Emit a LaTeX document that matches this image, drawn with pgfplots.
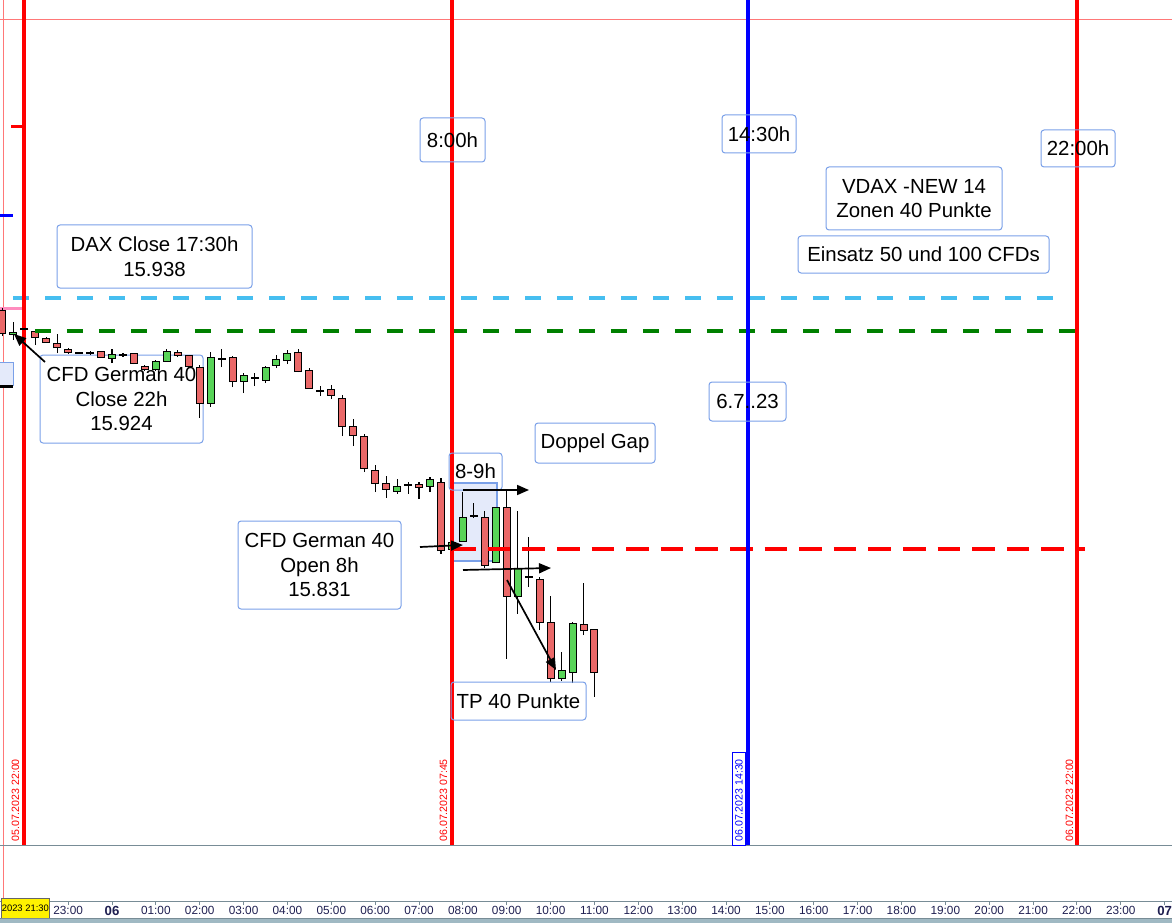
\documentclass[border=0pt]{standalone}
\usepackage{fontspec}
\setmainfont{Liberation Sans}
\usepackage{pgfplots}
\pgfplotsset{compat=1.18}
\usepackage{pgfplotstable}
\usetikzlibrary{arrows.meta}

\definecolor{boxc}{RGB}{122,160,232}
\definecolor{skyd}{RGB}{70,190,240}
\definecolor{grn}{RGB}{0,128,0}
\definecolor{redbody}{RGB}{234,104,104}
\definecolor{grnbody}{RGB}{88,212,88}
\definecolor{axgray}{RGB}{120,140,150}
\definecolor{pinkl}{RGB}{255,120,120}
\definecolor{pinkt}{RGB}{255,140,190}
\definecolor{shade}{RGB}{228,234,250}
\definecolor{tickc}{RGB}{30,30,80}
\definecolor{band}{RGB}{160,185,195}

% 15-min candles, t = hours from 06.07.2023 00:00
\pgfplotstableread{
t     o       h       l       c
-2.5  15933.0 15933.8 15921.9 15922.7
-1.75 15924.0 15924.9 15918.0 15921.0
-1.5  15921.0 15921.4 15918.9 15918.9
-1.25 15918.9 15922.7 15914.6 15916.7
-1    15916.3 15916.7 15914.2 15914.6
-0.25 15915.5 15915.5 15912.5 15912.5
0.5   15914.6 15914.6 15909.9 15909.9
0.75  15909.1 15909.5 15906.9 15907.4
1.5   15915.0 15915.9 15912.9 15913.3
1.75  15913.8 15913.8 15908.2 15908.6
2     15908.6 15909.5 15886.9 15892.9
2.75  15912.9 15913.3 15900.1 15902.2
4.25  15915.0 15916.3 15906.5 15906.5
4.5   15907.4 15908.2 15899.3 15899.3
5     15899.3 15901.0 15895.0 15896.3
5.25  15895.4 15896.7 15879.2 15883.0
5.5   15883.5 15886.5 15874.9 15879.2
5.75  15879.2 15880.1 15863.8 15865.1
6     15864.7 15866.8 15855.3 15858.7
6.25  15859.2 15862.1 15852.8 15856.2
7     15858.7 15859.6 15852.3 15857.0
7.5   15859.6 15861.3 15828.9 15830.1
8.5   15844.6 15847.2 15822.9 15823.7
9     15848.9 15856.2 15784.1 15810.5
9.5   15819.5 15836.1 15814.8 15818.6
9.75  15818.2 15819.0 15796.4 15799.4
10    15799.9 15810.9 15774.3 15775.5
10.75 15799.0 15816.5 15794.3 15796.0
11    15796.9 15796.9 15767.9 15778.1
}\redc

\pgfplotstableread{
t     o       h       l       c
-2.25 15922.3 15927.8 15920.2 15923.6
0     15912.1 15916.3 15910.3 15914.2
1     15907.4 15911.6 15906.9 15911.2
1.25  15910.8 15916.3 15910.8 15915.5
2.25  15892.9 15915.0 15891.6 15912.9
3     15902.2 15906.1 15897.5 15905.2
3.5   15902.7 15909.1 15901.8 15908.6
3.75  15909.1 15913.8 15908.2 15912.1
4     15911.2 15915.9 15909.9 15914.6
6.5   15855.3 15860.9 15854.5 15857.9
7.25  15857.4 15861.7 15855.3 15860.9
7.75  15830.6 15834.8 15829.7 15834.0
8     15834.0 15855.3 15834.0 15844.6
8.75  15825.0 15848.9 15825.0 15848.9
9.25  15810.5 15847.2 15803.3 15822.9
10.25 15775.5 15787.1 15774.7 15779.4
10.5  15778.1 15799.9 15773.8 15799.4
}\greenc

\pgfplotstableread{
t     o       h       l
-2    15924.9 15924.9 15924.9
-0.75 15914.6 15915.0 15914.2
-0.5  15914.6 15915.5 15913.8
0.25  15913.8 15914.6 15912.9
2.5   15912.1 15916.3 15908.6
3.25  15903.9 15906.1 15900.5
4.75  15898.4 15900.5 15896.3
6.75  15858.3 15859.6 15854.5
8.25  15845.1 15850.6 15844.2
}\dojic

\tikzset{
  px/.style={shift={(0pt,450.5pt)}, x=0.5pt, y=-0.5pt},
  bx/.style={draw=boxc, line width=0.5pt, rounded corners=1.5pt},
  tx/.style={align=center, font=\fontsize{10.2}{12.4}\selectfont, inner sep=0pt},
  dl/.style={rotate=90, anchor=west, inner sep=0pt, font=\fontsize{5.3}{6}\selectfont},
  arr/.style={-{Triangle[length=6pt,width=5pt]}, line width=0.85pt, black},
}
\pgfplotsset{
  wick/.style={draw=none, error bars/.cd, y dir=plus, y explicit, error mark=none,
    error bar style={draw=black, line width=0.55pt}},
  body/.style={draw=none, error bars/.cd, y dir=plus, y explicit, error mark=none,
    error bar style={draw=#1, line width=4pt, line cap=butt}},
  fillb/.style={draw=none, error bars/.cd, y dir=plus, y explicit, error mark=none,
    error bar style={draw=#1, line width=3pt, line cap=butt}},
}
\newcommand{\bl}[1]{{\fontsize{6.6}{7}\selectfont\textbf{#1}}}

\begin{document}
\begin{tikzpicture}

% behind the candles (pixel grid of the screenshot)
\begin{scope}[px]
  \draw[pinkl, line width=0.5pt] (0,20) -- (1172,20);
  \draw[pinkl, line width=0.5pt] (3,0) -- (3,901);
  \draw[pinkt, line width=1.5pt] (0,308) -- (22,308);
  \draw[red, line width=1.5pt] (11,127) -- (22,127);
  \draw[blue, line width=1.5pt] (0,216) -- (13,216);
  \draw[boxc, fill=shade, line width=0.5pt] (-2,362) rectangle (13,385);
  \draw[black, line width=1.5pt] (0,386) -- (13,386);
  \draw[boxc, fill=shade, line width=0.6pt] (453,483) rectangle (497,561);

  \draw[bx] (57,225) rectangle (252,288);
  \node[tx] at (154.5,256.5) {DAX Close 17:30h\\15.938};
  \draw[bx] (40,355) rectangle (203,443);
  \node[tx] at (121.5,399) {CFD German 40\\Close 22h\\15.924};
  \draw[bx] (238,521) rectangle (401,609);
  \node[tx] at (319.5,565) {CFD German 40\\Open 8h\\15.831};
  \draw[bx] (535,423) rectangle (655,463);
  \node[tx] at (595,443) {Doppel Gap};
  \draw[bx] (826,167) rectangle (1002,230);
  \node[tx] at (914,198.5) {VDAX -NEW 14\\Zonen 40 Punkte};
  \draw[bx] (798,236) rectangle (1049,273);
  \node[tx] at (923.5,254.5) {Einsatz 50 und 100 CFDs};
\end{scope}

\begin{axis}[
  at={(0pt,0pt)}, anchor=south west,
  width=586pt, height=450.5pt, scale only axis,
  xmin=-2.5536, xmax=24.168,
  ymin=15680.83, ymax=16065.21,
  axis x line*=bottom, axis y line=none,
  x axis line style={draw=axgray, line width=0.5pt, -},
  ytick=\empty,
  xtick={-1,0,...,24},
  xticklabels={23:00,\bl{06},01:00,02:00,03:00,04:00,05:00,06:00,07:00,08:00,09:00,10:00,11:00,12:00,13:00,14:00,15:00,16:00,17:00,18:00,19:00,20:00,21:00,22:00,23:00,\bl{07}},
  tick align=outside, major tick length=2pt,
  xtick style={draw=axgray, line width=0.5pt},
  xticklabel style={font=\fontsize{5.9}{6.5}\selectfont, text=tickc, inner sep=0pt, anchor=north, yshift=-0.6pt},
]
% wicks
\addplot[wick] table[x=t, y=l, y error expr=\thisrow{h}-\thisrow{l}] {\redc};
\addplot[wick] table[x=t, y=l, y error expr=\thisrow{h}-\thisrow{l}] {\greenc};
\addplot[wick] table[x=t, y=l, y error expr=\thisrow{h}-\thisrow{l}] {\dojic};
% bodies
\addplot[body=black] table[x=t, y=c, y error expr=\thisrow{o}-\thisrow{c}] {\redc};
\addplot[fillb=redbody] table[x=t, y expr=\thisrow{c}+0.45, y error expr=\thisrow{o}-\thisrow{c}-0.9] {\redc};
\addplot[body=black] table[x=t, y=o, y error expr=\thisrow{c}-\thisrow{o}] {\greenc};
\addplot[fillb=grnbody] table[x=t, y expr=\thisrow{o}+0.45, y error expr=\thisrow{c}-\thisrow{o}-0.9] {\greenc};
\addplot[only marks, mark=-, mark size=2pt, mark options={line width=0.75pt, black}] table[x=t, y=o] {\dojic};

% reference levels
\draw[skyd, line width=2.15pt, dash pattern=on 8pt off 8pt] (axis cs:-2.257,15938) -- (axis cs:21.5,15938);
\draw[grn, line width=2.15pt, dash pattern=on 8pt off 8pt] (axis cs:-1.756,15924) -- (axis cs:21.96,15924);
\draw[red, line width=2pt, dash pattern=on 11.3pt off 6pt] (axis cs:7.78,15831) -- (axis cs:22.18,15831);

% session markers
\draw[red, line width=2pt] (axis cs:-2,15704.7) -- (axis cs:-2,16065.21);
\draw[red, line width=2pt] (axis cs:7.75,15704.7) -- (axis cs:7.75,16065.21);
\draw[blue, line width=2pt] (axis cs:14.5,15704.7) -- (axis cs:14.5,16065.21);
\draw[red, line width=2pt] (axis cs:22,15704.7) -- (axis cs:22,16065.21);
\end{axis}

% on top
\begin{scope}[px]
  \draw[axgray, line width=0.5pt] (0,845) -- (1172,845);

  \draw[bx] (420,118) rectangle (485,162);
  \node[tx] at (452.5,140) {8:00h};
  \draw[bx] (722,115) rectangle (796,153);
  \node[tx] at (759,134) {14:30h};
  \draw[bx] (1041,130) rectangle (1115,167);
  \node[tx] at (1078,148.5) {22:00h};
  \draw[bx] (709,382) rectangle (786,421);
  \node[tx] at (747.5,401.5) {6.7..23};
  \draw[bx] (449,453) rectangle (502,490);
  \node[tx] at (475.5,471.5) {8-9h};
  \draw[bx] (451,682) rectangle (586,720);
  \node[tx] at (518.5,701) {TP 40 Punkte};

  \draw[arr] (45,362) -- (14,334);
  \draw[arr] (420,547) -- (463,545);
  \draw[arr] (463,490) -- (529,490);
  \draw[arr] (463,570) -- (551,568);
  \draw[arr] (507,580) -- (556,670);

  \node[dl, text=red] at (15.5,842) {05.07.2023 22:00};
  \node[dl, text=red] at (443.5,842) {06.07.2023 07:45};
  \draw[blue, line width=0.5pt, fill=white] (732,752) rectangle (745,845);
  \node[dl, text=blue] at (739,842) {06.07.2023 14:30};
  \node[dl, text=red] at (1069.5,842) {06.07.2023 22:00};

  \node[fill=yellow, draw=black!60, line width=0.4pt, anchor=west, inner xsep=0.4pt,
        minimum height=10pt, font=\fontsize{4.7}{5.2}\selectfont] at (0.6,908) {2023 21:30};
  \fill[band] (0,918) rectangle (1172,923);
  \draw[axgray, line width=0.5pt] (0,918) -- (1172,918);
\end{scope}

\pgfresetboundingbox
\path[use as bounding box] (0pt,-11pt) rectangle (586pt,450.5pt);
\end{tikzpicture}
\end{document}
